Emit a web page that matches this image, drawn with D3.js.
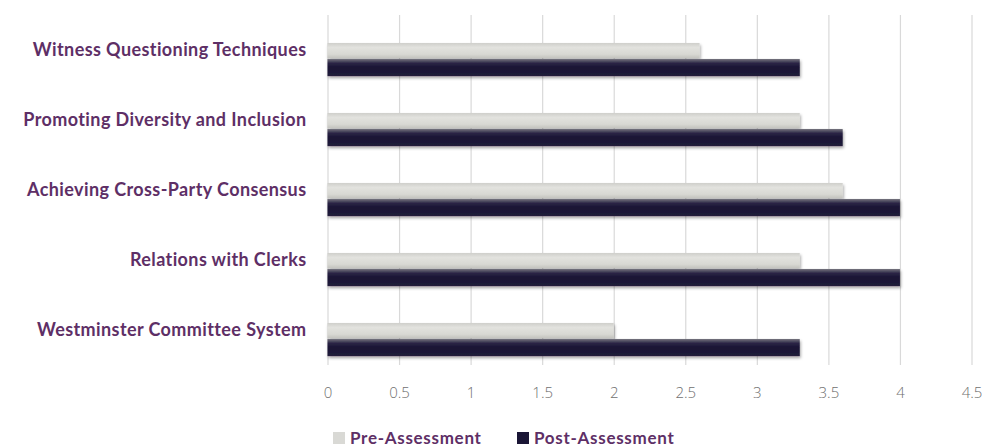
<!DOCTYPE html>
<html>
<head>
<meta charset="utf-8">
<script src="https://cdn.jsdelivr.net/npm/d3@7"></script>
<style>
  body { margin: 0; background: #fff; }
  svg { display: block; }
  .cat text { font-family: Lato, "Open Sans", sans-serif; font-weight: bold; font-size: 18px; letter-spacing: 0.4px; fill: #5e2f66; }
  .xaxis text { font-family: "Open Sans", Lato, sans-serif; font-weight: 300; font-size: 15px; fill: #707070; }
  .legend text { font-family: Lato, "Open Sans", sans-serif; font-weight: bold; font-size: 17px; letter-spacing: 0.7px; fill: #5e2f66; }
</style>
</head>
<body>
<svg id="chart"></svg>
<script>
// chart data, top to bottom
const categories = [
    "Witness Questioning Techniques",
    "Promoting Diversity and Inclusion",
    "Achieving Cross-Party Consensus",
    "Relations with Clerks",
    "Westminster Committee System"
];
const preAssessment = [2.6, 3.3, 3.6, 3.3, 2.0];
const postAssessment = [3.3, 3.6, 4.0, 4.0, 3.3];
const seriesNames = ["Pre-Assessment", "Post-Assessment"];
const xTicks = [0, 0.5, 1, 1.5, 2, 2.5, 3, 3.5, 4, 4.5];

const width = 982, height = 448;
const plot = { left: 327.5, right: 971.5, top: 15, bottom: 365 };

const svg = d3.select("#chart")
    .attr("width", width)
    .attr("height", height);

// gradients + shadow
const defs = svg.append("defs");
const preGrad = defs.append("linearGradient").attr("id", "preGrad")
    .attr("x1", 0).attr("y1", 0).attr("x2", 0).attr("y2", 1);
preGrad.append("stop").attr("offset", "0%").attr("stop-color", "#cfcfcb");
preGrad.append("stop").attr("offset", "30%").attr("stop-color", "#e2e2de");
preGrad.append("stop").attr("offset", "75%").attr("stop-color", "#d8d8d3");
preGrad.append("stop").attr("offset", "100%").attr("stop-color", "#c4c4bf");

const postGrad = defs.append("linearGradient").attr("id", "postGrad")
    .attr("x1", 0).attr("y1", 0).attr("x2", 0).attr("y2", 1);
postGrad.append("stop").attr("offset", "0%").attr("stop-color", "#77767f");
postGrad.append("stop").attr("offset", "25%").attr("stop-color", "#2b2545");
postGrad.append("stop").attr("offset", "50%").attr("stop-color", "#1a1535");
postGrad.append("stop").attr("offset", "100%").attr("stop-color", "#211c3a");

const shadow = defs.append("filter").attr("id", "shadow")
    .attr("x", "-5%").attr("y", "-30%").attr("width", "110%").attr("height", "170%");
shadow.append("feDropShadow")
    .attr("dx", 1).attr("dy", 2).attr("stdDeviation", 1.6)
    .attr("flood-color", "#000").attr("flood-opacity", 0.35);

// scales
const x = d3.scaleLinear()
    .domain([0, 4.5])
    .range([plot.left, plot.right]);

const y = d3.scaleBand()
    .domain(categories)
    .range([plot.top, plot.bottom])
    .padding(0);

const bw = y.bandwidth();

// gridlines
svg.append("g")
    .attr("class", "grid")
    .attr("transform", `translate(0, ${plot.bottom})`)
    .call(d3.axisBottom(x).tickValues(xTicks).tickSize(-(plot.bottom - plot.top)).tickFormat(""))
    .call(g => g.select(".domain").remove())
    .call(g => g.selectAll("line").attr("stroke", "#d9d9d9").attr("stroke-width", 1.2));

// x tick labels
svg.append("g")
    .attr("class", "xaxis")
    .attr("transform", `translate(0, ${plot.bottom + 19})`)
    .call(d3.axisBottom(x).tickValues(xTicks).tickSize(0).tickFormat(d3.format("")))
    .call(g => g.select(".domain").remove());

// category labels
svg.append("g")
    .attr("class", "cat")
    .attr("transform", `translate(${plot.left}, 0)`)
    .call(d3.axisLeft(y).tickSize(0).tickPadding(21))
    .call(g => g.select(".domain").remove());

// bars
const rows = categories.map((c, i) => ({ cat: c, pre: preAssessment[i], post: postAssessment[i] }));

svg.append("g").selectAll(".pre")
    .data(rows)
    .enter()
    .append("rect")
    .attr("class", "pre")
    .attr("x", x(0))
    .attr("y", d => y(d.cat) + bw * 0.40)
    .attr("width", d => x(d.pre) - x(0))
    .attr("height", bw * 0.215)
    .attr("fill", "url(#preGrad)")
    .attr("filter", "url(#shadow)");

svg.append("g").selectAll(".post")
    .data(rows)
    .enter()
    .append("rect")
    .attr("class", "post")
    .attr("x", x(0))
    .attr("y", d => y(d.cat) + bw * 0.628)
    .attr("width", d => x(d.post) - x(0))
    .attr("height", bw * 0.245)
    .attr("fill", "url(#postGrad)")
    .attr("filter", "url(#shadow)");

// legend
const legend = svg.append("g").attr("class", "legend");
const legendX = [333, 517];
const legendFill = ["#d9d9d5", "#1a1535"];
seriesNames.forEach((name, i) => {
    const g = legend.append("g").attr("transform", `translate(${legendX[i]}, 438)`);
    g.append("rect")
        .attr("x", 0).attr("y", -6)
        .attr("width", 12).attr("height", 12)
        .attr("fill", legendFill[i]);
    g.append("text")
        .attr("x", 17).attr("y", 6)
        .text(name);
});
</script>
</body>
</html>
